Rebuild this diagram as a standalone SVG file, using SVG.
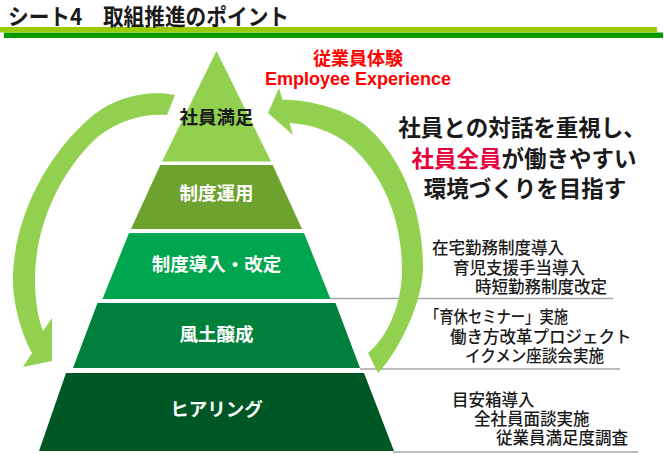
<svg xmlns="http://www.w3.org/2000/svg" width="664" height="454" viewBox="0 0 664 454">
<style>
.jp{font-family:"Noto Sans CJK JP","Noto Sans CJK SC",sans-serif;font-weight:bold}
.lbl{font-size:18.5px;text-anchor:middle;fill:#ffffff}
.lst{font-size:16.5px;fill:#1a1a1a;font-weight:500}
.rule{stroke:#a6a6a6;stroke-width:1.5;fill:none}
.arw{fill:#92d050}
</style>
<rect width="664" height="454" fill="#ffffff"/>
<g id="header">
<rect x="4" y="32.5" width="659" height="5.5" fill="#009900"/>
<rect x="0" y="27" width="657" height="5.5" fill="#99cc00"/>
<text class="jp" x="8" y="24.5" font-size="22.5" fill="#1a1a1a" textLength="281" lengthAdjust="spacingAndGlyphs">シート4　取組推進のポイント</text>
</g>
<g id="rules">
<line class="rule" x1="330" y1="298.5" x2="613" y2="298.5"/>
<line class="rule" x1="360" y1="369" x2="620" y2="369"/>
<line class="rule" x1="393" y1="452" x2="638" y2="452"/>
</g>
<g id="level1">
<polygon points="216.5,51 271,161.5 162,161.5" fill="#92d050"/>
<text class="jp lbl" x="216.5" y="124" style="fill:#1a1a1a">社員満足</text>
</g>
<g id="level2">
<polygon points="160.3,165 272.7,165 302,229 131,229" fill="#6ea22f"/>
<text class="jp lbl" x="216.5" y="200">制度運用</text>
</g>
<g id="level3">
<polygon points="129,233 304,233 330.5,299 102.5,299" fill="#00a54f"/>
<text class="jp lbl" x="216.5" y="271">制度導入・改定</text>
</g>
<g id="level4">
<polygon points="97.5,303 335.5,303 360,368 73,368" fill="#00803a"/>
<text class="jp lbl" x="216.5" y="341">風土醸成</text>
</g>
<g id="level5">
<polygon points="66,373 364,373 394,451 39,451" fill="#005726"/>
<text class="jp lbl" x="216.5" y="416">ヒアリング</text>
</g>
<g id="connectors">
<path class="arw" d="M175,95 C150,90 115,96 90,118 C50,152 13,215 13,280 C13,305 22,335 32,353 L23,367 L52,361 L52,318 L43,331 C38,318 35,300 35,280 C35,220 65,165 100,135 C120,120 145,113 167,115 Z"/>
<path class="arw" d="M378,373 C400,350 423,300 423,268 C423,200 395,150 365,125 C340,106 305,100 282.5,99.8 L279,88 L268,113 L293,135 L289.5,123 C310,124 335,132 352,147 C380,172 402,215 402,270 C402,300 390,335 368,353 Z"/>
</g>
<g id="ex-label">
<text class="jp" x="358" y="65" font-size="18" text-anchor="middle" fill="#ff0000">従業員体験</text>
<text x="358" y="85" font-family="Liberation Sans, Arial, sans-serif" font-weight="bold" font-size="18" text-anchor="middle" fill="#ff0000">Employee Experience</text>
</g>
<g id="message">
<text class="jp" x="522" y="136" font-size="22.5" text-anchor="middle" fill="#1a1a1a">社員との対話を重視し、</text>
<text class="jp" x="524" y="167" font-size="22.5" text-anchor="middle" fill="#1a1a1a"><tspan fill="#e8003a">社員全員</tspan>が働きやすい</text>
<text class="jp" x="525" y="197" font-size="22.5" text-anchor="middle" fill="#1a1a1a">環境づくりを目指す</text>
</g>
<g id="list-level3">
<text class="jp lst" x="432" y="254">在宅勤務制度導入</text>
<text class="jp lst" x="453" y="274">育児支援手当導入</text>
<text class="jp lst" x="475" y="293">時短勤務制度改定</text>
</g>
<g id="list-level4">
<text class="jp lst" x="425" y="323" textLength="143" lengthAdjust="spacingAndGlyphs">「育休セミナー」実施</text>
<text class="jp lst" x="450" y="343">働き方改革プロジェクト</text>
<text class="jp lst" x="465" y="362" textLength="139" lengthAdjust="spacingAndGlyphs">イクメン座談会実施</text>
</g>
<g id="list-level5">
<text class="jp lst" x="452" y="406">目安箱導入</text>
<text class="jp lst" x="474" y="425">全社員面談実施</text>
<text class="jp lst" x="496" y="444">従業員満足度調査</text>
</g>
</svg>
